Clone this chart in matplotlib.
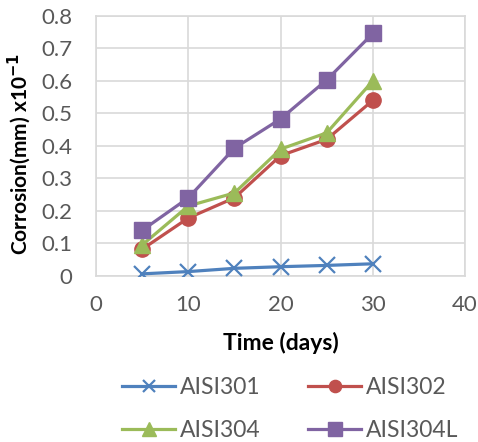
import matplotlib
matplotlib.use("Agg")
import matplotlib.pyplot as plt

# data
days = [5, 10, 15, 20, 25, 30]
aisi301 = [0.006, 0.013, 0.023, 0.028, 0.032, 0.037]
aisi302 = [0.082, 0.178, 0.240, 0.370, 0.420, 0.540]
aisi304 = [0.095, 0.215, 0.255, 0.390, 0.440, 0.600]
aisi304l = [0.140, 0.240, 0.393, 0.483, 0.603, 0.746]

x_ticks = [0, 10, 20, 30, 40]
y_ticks = [0, 0.1, 0.2, 0.3, 0.4, 0.5, 0.6, 0.7, 0.8]

plt.rcParams['font.family'] = ['Lato', 'DejaVu Sans']

fig = plt.figure(figsize=(4.78, 4.42), dpi=100)
ax = fig.add_axes([0.201, 0.376, 0.772, 0.588])

lw = 2.3
l1, = ax.plot(days, aisi301, color='#4F81BD', lw=lw, marker='x', ms=11, mew=1.6, label='AISI301', zorder=3)
l2, = ax.plot(days, aisi302, color='#C0504D', lw=lw, marker='o', ms=11, label='AISI302', zorder=4)
l3, = ax.plot(days, aisi304, color='#9BBB59', lw=lw, marker='^', ms=12, label='AISI304', zorder=5)
l4, = ax.plot(days, aisi304l, color='#8064A2', lw=lw, marker='s', ms=12, label='AISI304L', zorder=6)

ax.set_xlim(0, 40)
ax.set_ylim(0, 0.8)
ax.set_xticks(x_ticks)
ax.set_yticks(y_ticks)
ax.set_yticklabels(['0' if v == 0 else f'{v:.1f}' for v in y_ticks])
ax.grid(True, color='#D9D9D9', lw=1.2)
ax.set_axisbelow(True)
for s in ax.spines.values():
    s.set_color('#D9D9D9')
    s.set_linewidth(1.2)
ax.tick_params(length=0, labelsize=16, colors='#595959')
ax.tick_params(axis='y', pad=17)
ax.tick_params(axis='x', pad=14)

ax.set_xlabel('Time (days)', fontsize=16.5, fontweight='bold', labelpad=12)
ax.set_ylabel(r'Corrosion(mm) x10$^{\mathbf{-1}}$', fontsize=15, fontweight='bold')
ax.yaxis.set_label_coords(-0.172, 0.47)

# matplotlib fills legend columns first, so order to get 301|302 on top row
fig.legend([l1, l3, l2, l4], ['AISI301', 'AISI304', 'AISI302', 'AISI304L'],
           loc='center', bbox_to_anchor=(0.607, 0.074), ncol=2, frameon=False,
           fontsize=16.5, handlelength=2.3, markerscale=0.8, columnspacing=2.1,
           labelspacing=0.95, handletextpad=0.2, labelcolor='#595959')

fig.savefig('out.png', dpi=100)
